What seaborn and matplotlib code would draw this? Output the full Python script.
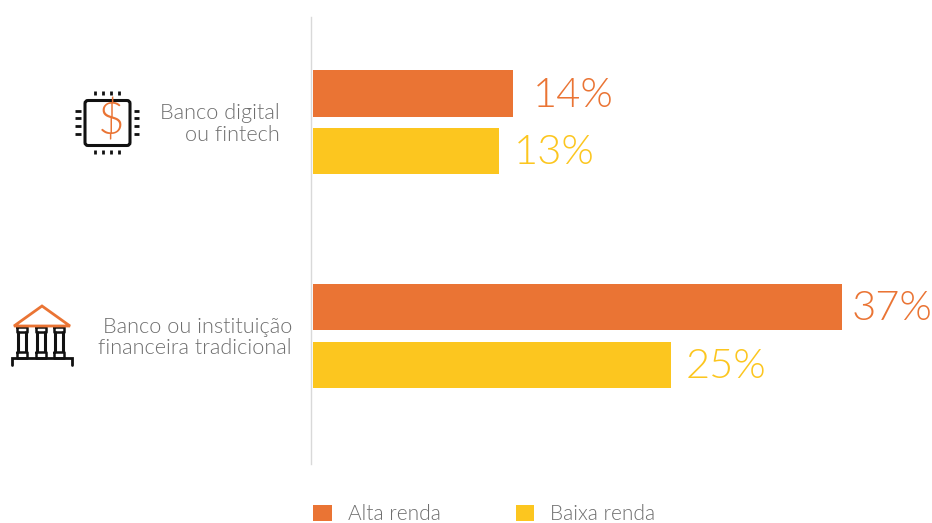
import matplotlib
matplotlib.use("Agg")
import matplotlib.pyplot as plt
from matplotlib.patches import FancyBboxPatch, Polygon
import pandas as pd
import seaborn as sns

categories = ["Banco digital\nou fintech", "Banco ou instituição\nfinanceira tradicional"]
alta_renda = [14, 37]
baixa_renda = [13, 25]
series_names = ["Alta renda", "Baixa renda"]
palette = ["#EA7434", "#FCC61F"]
label_colors = ["#EA7434", "#FCC61F"]
text_gray = "#6E6E6E"
ink = "#111111"

W, H = 932, 523

sns.set_theme(style="white")
plt.rcParams["font.family"] = ["Lato", "DejaVu Sans"]
LIGHT = 300

frame = pd.DataFrame({
    "categoria": categories * 2,
    "renda": [series_names[0]] * 2 + [series_names[1]] * 2,
    "valor": alta_renda + baixa_renda,
})

fig = plt.figure(figsize=(W / 100, H / 100), dpi=100, facecolor="white")
ax = fig.add_axes([311 / W, 1 - 463.9 / H, (W - 311) / W, (463.9 - 16.9) / H])
sns.barplot(data=frame, y="categoria", x="valor", hue="renda", order=categories,
            hue_order=series_names, palette=palette, width=0.54, gap=0.2,
            saturation=1, ax=ax, orient="h", legend=True, linewidth=0)

ax.set_xlim(-2 / 14.31, (W - 313) / 14.31)
ax.set_ylim(1.5995, -0.494)
ax.set_xlabel("")
ax.set_ylabel("")
ax.set_xticks([])
ax.set_yticks([0, 1])
ax.set_yticklabels([])
ax.tick_params(length=0)
sns.despine(ax=ax, top=True, right=True, bottom=True)
ax.spines["left"].set_color("#D9D9D9")
ax.spines["left"].set_linewidth(1)

# Percentage labels at the end of each bar
paddings = [[14, 6.5], [10.5, 11]]
for container, color, pads in zip(ax.containers, label_colors, paddings):
    annotations = ax.bar_label(container, fmt="%d%%", padding=0, color=color,
                               fontsize=30, fontweight=LIGHT)
    for annotation, pad in zip(annotations, pads):
        annotation.xyann = (pad, annotation.xyann[1] - 1.2)

# Category names, right aligned against the icons
for i, (name, right_edge) in enumerate(zip(categories, [31, 19])):
    ax.annotate(name, xy=(0, i), xycoords=ax.get_yaxis_transform(),
                xytext=(-right_edge, -1.5), textcoords="offset pixels",
                ha="right", va="center", fontsize=15.6, color=text_gray,
                linespacing=1.08, fontweight=LIGHT)

# Legend along the bottom edge
handles, labels = ax.get_legend_handles_labels()
ax.legend(handles, labels, ncols=2, frameon=False, loc="upper left",
          bbox_to_anchor=(313 / W, 1 - 504.5 / H), bbox_transform=fig.transFigure,
          borderaxespad=0, borderpad=0, handlelength=0.9,
          handleheight=0.8, handletextpad=0.77, columnspacing=3.6,
          labelcolor=text_gray, prop={"size": 15, "weight": LIGHT})

# Decorative icons, laid out in figure pixels
icons = fig.add_axes([0, 0, 1, 1], facecolor="none")
icons.set_xlim(0, W)
icons.set_ylim(H, 0)
icons.axis("off")

# Chip with a dollar sign
icons.add_patch(FancyBboxPatch((85, 100.5), 45, 45, boxstyle="round,pad=0,rounding_size=3",
                               fill=False, ec=ink, lw=2.2))
for x in (95, 103, 111, 119):
    icons.plot([x, x], [91, 95], color=ink, lw=2, solid_capstyle="butt")
    icons.plot([x, x], [150, 154], color=ink, lw=2, solid_capstyle="butt")
for y in (111, 118, 126, 134):
    icons.plot([75, 81], [y, y], color=ink, lw=2, solid_capstyle="butt")
    icons.plot([134, 139], [y, y], color=ink, lw=2, solid_capstyle="butt")
icons.text(111, 121, "$", color=palette[0], fontsize=33, ha="center", va="center",
           fontweight=LIGHT)

# Classical bank building
for cx in (22, 41, 59):
    icons.plot([cx - 4, cx - 4], [331, 352], color=ink, lw=2.2, solid_capstyle="butt")
    icons.plot([cx + 4, cx + 4], [331, 352], color=ink, lw=2.2, solid_capstyle="butt")
    icons.plot([cx - 5, cx + 5, cx + 5, cx - 5, cx - 5], [327, 327, 332, 332, 327], color=ink, lw=1.8)
    icons.plot([cx - 5, cx + 5, cx + 5, cx - 5, cx - 5], [352, 352, 358, 358, 352], color=ink, lw=1.8)
icons.plot([12, 12, 72, 72], [365, 358, 358, 365], color=ink, lw=2, solid_joinstyle="miter")
icons.add_patch(Polygon([(14, 326), (42, 306), (70, 326)], closed=True, fill=True,
                        fc="white", ec=palette[0], lw=2, zorder=3))

fig.savefig("out.png", dpi=100)
